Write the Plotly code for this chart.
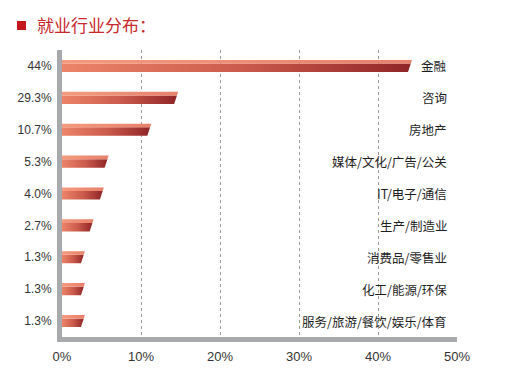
import plotly.graph_objects as go

categories = ['金融', '咨询', '房地产', '媒体/文化/广告/公关', 'IT/电子/通信',
              '生产/制造业', '消费品/零售业', '化工/能源/环保', '服务/旅游/餐饮/娱乐/体育']
value_labels = ['44%', '29.3%', '10.7%', '5.3%', '4.0%', '2.7%', '1.3%', '1.3%', '1.3%']
bar_lengths = [43.8, 14.2, 10.8, 5.4, 4.8, 3.5, 2.4, 2.4, 2.4]
x_ticks = [0, 10, 20, 30, 40, 50]
x_tick_labels = ['0%', '10%', '20%', '30%', '40%', '50%']

H = 0.38      # bar thickness (row units)
TOP = 0.3     # share of thickness used by the top face
S = 0.5       # slant of bar end (axis units)

# page body has an 8px default margin; positions below compensate for it
OFF = 8
W, HT = 511, 373
L, T, PW, PH = 62 - OFF, 50 - OFF, 395, 287

fig = go.Figure()
rows = list(range(len(categories)))
for i, v in zip(rows, bar_lengths):
    yb = i + H / 2
    yt = i - H / 2
    ym = yt + H * TOP
    xm = v + S * (1 - TOP)
    fig.add_trace(go.Scatter(
        x=[0, v, xm, 0, 0], y=[yb, yb, ym, ym, yb], mode='lines',
        line=dict(width=0), fill='toself', hoverinfo='skip', showlegend=False,
        fillgradient=dict(type='horizontal',
                          colorscale=[[0, '#ec8469'], [0.5, '#cc5c4d'], [1, '#902527']])))
    fig.add_trace(go.Scatter(
        x=[0, xm, v + S, 0, 0], y=[ym, ym, yt, yt, ym], mode='lines',
        line=dict(width=0), fill='toself', hoverinfo='skip', showlegend=False,
        fillgradient=dict(type='horizontal',
                          colorscale=[[0, '#f49a7e'], [1, '#e8806a']])))

annotations = [dict(text=c, xref='paper', x=(449 - 62) / PW, xanchor='right',
                    yref='y', y=r, yanchor='middle', showarrow=False,
                    font=dict(family='Noto Sans CJK SC', size=12.5, color='#1e1e1e'))
               for r, c in zip(rows, categories)]

fig.update_layout(
    template='none',
    width=W, height=HT,
    margin=dict(l=L, r=W - L - PW, t=T, b=HT - T - PH, autoexpand=False),
    paper_bgcolor='white', plot_bgcolor='white',
    font=dict(family='Liberation Sans, Arial, Noto Sans CJK SC', color='#333333'),
    title=dict(text='就业行业分布：', x=(37 - OFF) / W, xref='container', xanchor='left',
               y=1 - (26 - OFF) / HT, yref='container', yanchor='middle',
               font=dict(family='Noto Sans CJK SC', size=17, color='#c8282c')),
    xaxis=dict(range=[0, 50], tickmode='array', tickvals=x_ticks, ticktext=x_tick_labels,
               showgrid=True, gridcolor='#9a9a9a', griddash='3px,3px', gridwidth=1,
               showline=True, linecolor='#a7a9ac', linewidth=5, automargin=False,
               zeroline=False, ticks='', ticklabelstandoff=3,
               tickfont=dict(size=13, color='#333333')),
    yaxis=dict(range=[8.5, -0.5], tickmode='array', tickvals=rows, ticktext=value_labels,
               showgrid=False, zeroline=False, showline=True, automargin=False,
               linecolor='#a7a9ac', linewidth=5, ticks='', ticklabelstandoff=3,
               tickfont=dict(size=12, color='#333333')),
    annotations=annotations,
    shapes=[dict(type='rect', xref='paper', yref='paper',
                 x0=(17 - 62) / PW, x1=(26 - 62) / PW,
                 y0=(337 - 30) / PH, y1=(337 - 21) / PH,
                 fillcolor='#c4161c', line=dict(width=0))],
)

fig.write_html('out.html')
